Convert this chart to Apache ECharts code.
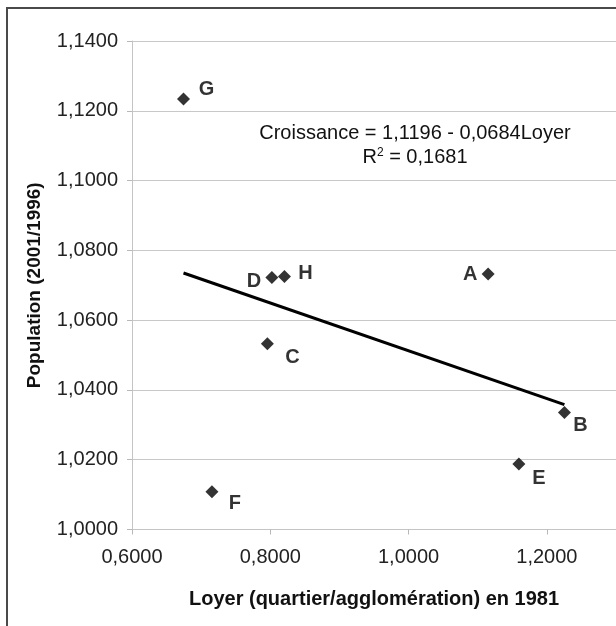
<!DOCTYPE html>
<html>
<head>
<meta charset="utf-8">
<script src="https://cdn.jsdelivr.net/npm/echarts@6/dist/echarts.min.js"></script>
<style>
  html, body { margin: 0; padding: 0; background: #fff; }
  #chart { width: 616px; height: 626px; }
</style>
</head>
<body>
<div id="chart"></div>
<script>
// quartiers : loyer relatif 1981 (x) et croissance de population 2001/1996 (y)
var names = ['A', 'B', 'C', 'D', 'E', 'F', 'G', 'H'];
var loyer = [1.1151, 1.2254, 0.7958, 0.8023, 1.1595, 0.7156, 0.6745, 0.8205];
var croissance = [1.0732, 1.0335, 1.0532, 1.0722, 1.0188, 1.0108, 1.1234, 1.0725];

// droite de tendance (extremites)
var trendX = [0.6745, 1.2254];
var trendY = [1.0735, 1.0358];

var equation = 'Croissance = 1,1196 - 0,0684Loyer';
var r2Text = 'R{sup|2} = 0,1681';

// position des etiquettes autour des losanges (px)
var labelOffset = {
  A: [-18, 0], B: [16, 13], C: [25, 14], D: [-18, 4],
  E: [20, 15], F: [23, 12], G: [23, -9], H: [21, -3]
};

var font = '"Liberation Sans", Arial, sans-serif';

function fr(v) { return v.toFixed(4).replace('.', ','); }

var points = [];
for (var i = 0; i < names.length; i++) {
  points.push({
    name: names[i],
    value: [loyer[i], croissance[i]],
    label: { offset: labelOffset[names[i]] }
  });
}

var chart = echarts.init(document.getElementById('chart'));
chart.setOption({
  animation: false,
  backgroundColor: '#fff',
  textStyle: { fontFamily: font },
  grid: { left: 132, top: 41, right: -5, bottom: 96.5 },
  xAxis: {
    type: 'value',
    min: 0.6, max: 1.3, interval: 0.2,
    name: 'Loyer (quartier/agglomération) en 1981',
    nameLocation: 'middle',
    nameGap: 60,
    nameTextStyle: { fontSize: 20, fontWeight: 'bold', color: '#111', fontFamily: font },
    axisLine: { lineStyle: { color: '#c4c4c4', width: 1 } },
    axisTick: { show: true, length: 5, lineStyle: { color: '#b8b8b8' } },
    axisLabel: { fontSize: 20, color: '#222', margin: 18, showMaxLabel: false, formatter: fr, fontFamily: font },
    splitLine: { show: false }
  },
  yAxis: {
    type: 'value',
    min: 1.0, max: 1.14, interval: 0.02,
    name: 'Population (2001/1996)',
    nameLocation: 'middle',
    nameGap: 88,
    nameRotate: 90,
    nameTextStyle: { fontSize: 19, fontWeight: 'bold', color: '#111', fontFamily: font },
    axisLine: { show: true, lineStyle: { color: '#c4c4c4', width: 1 } },
    axisTick: { show: true, length: 5, lineStyle: { color: '#b8b8b8' } },
    axisLabel: { fontSize: 20, color: '#222', margin: 14, formatter: fr, fontFamily: font },
    splitLine: { show: true, lineStyle: { color: '#c8c8c8', width: 1 } }
  },
  graphic: [
    {
      type: 'rect', silent: true, z: 100,
      shape: { x: 7, y: 8, width: 700, height: 700 },
      style: { fill: 'none', stroke: '#4a4a4a', lineWidth: 2 }
    },
    {
      type: 'text', x: 415, y: 133, silent: true,
      style: {
        text: equation, fill: '#111', font: '20px ' + font,
        align: 'center', verticalAlign: 'middle'
      }
    },
    {
      type: 'text', x: 415, y: 157, silent: true,
      style: {
        text: r2Text, fill: '#111', fontSize: 20, fontFamily: font,
        align: 'center', verticalAlign: 'middle',
        rich: { sup: { fontSize: 12, verticalAlign: 'top', padding: [0, 0, 9, 0], fontFamily: font } }
      }
    }
  ],
  series: [
    {
      type: 'line',
      data: [[trendX[0], trendY[0]], [trendX[1], trendY[1]]],
      showSymbol: false,
      lineStyle: { color: '#000', width: 3 },
      z: 2
    },
    {
      type: 'scatter',
      symbol: 'diamond',
      symbolSize: 13,
      itemStyle: { color: '#000' },
      label: {
        show: true,
        position: 'inside',
        formatter: '{b}',
        fontSize: 20,
        fontWeight: 'bold',
        color: '#000',
        fontFamily: font
      },
      data: points,
      z: 3
    }
  ]
});
</script>
</body>
</html>
